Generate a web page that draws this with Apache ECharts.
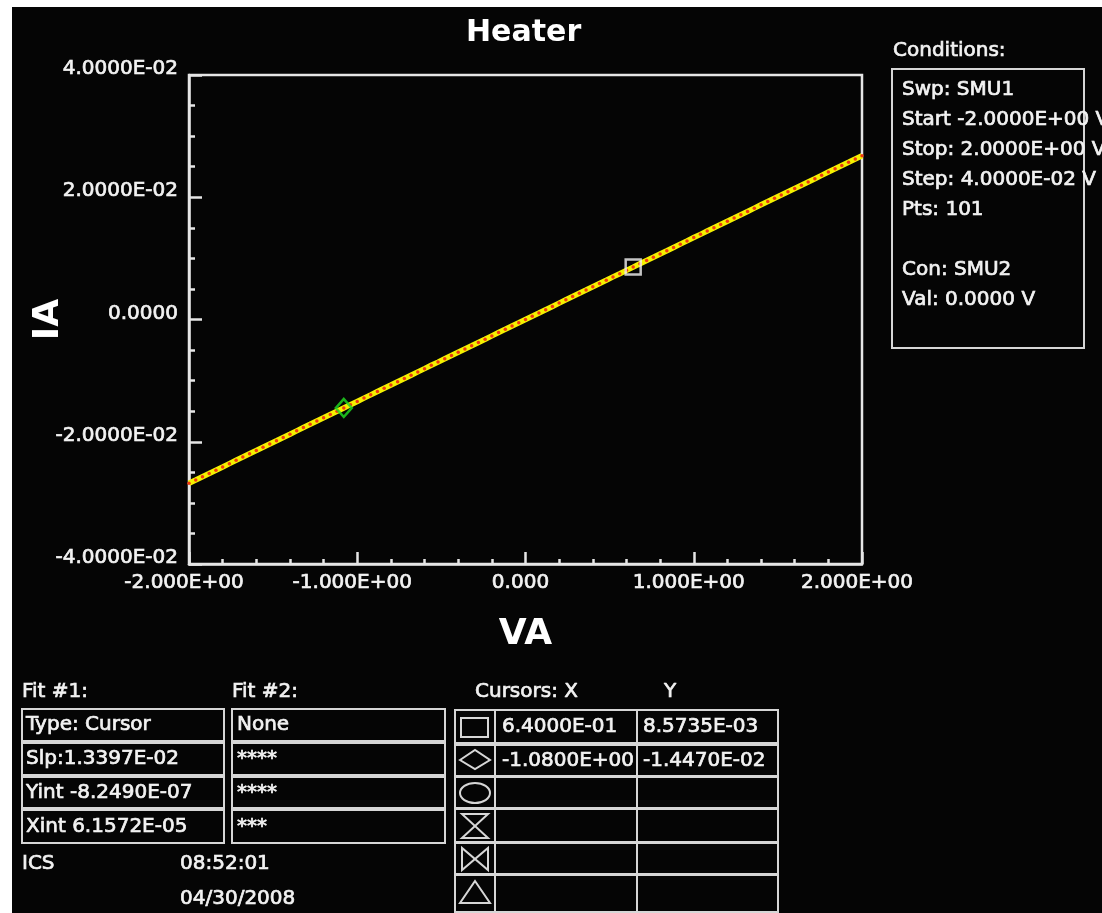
<!DOCTYPE html>
<html>
<head>
<meta charset="utf-8">
<title>Heater</title>
<script src="https://cdn.jsdelivr.net/npm/echarts@6/dist/echarts.min.js"></script>
<style>
  html, body { margin: 0; padding: 0; background: #ffffff; }
  #chart { width: 1102px; height: 913px; }
</style>
</head>
<body>
<div id="chart"></div>
<script>
// Sweep voltage VA (V), SMU1 from -2 V to +2 V in 0.04 V steps (101 points)
const sweepVolts = [
  -2.00, -1.96, -1.92, -1.88, -1.84, -1.80, -1.76, -1.72, -1.68, -1.64,
  -1.60, -1.56, -1.52, -1.48, -1.44, -1.40, -1.36, -1.32, -1.28, -1.24,
  -1.20, -1.16, -1.12, -1.08, -1.04, -1.00, -0.96, -0.92, -0.88, -0.84,
  -0.80, -0.76, -0.72, -0.68, -0.64, -0.60, -0.56, -0.52, -0.48, -0.44,
  -0.40, -0.36, -0.32, -0.28, -0.24, -0.20, -0.16, -0.12, -0.08, -0.04,
   0.00,
   0.04,  0.08,  0.12,  0.16,  0.20,  0.24,  0.28,  0.32,  0.36,  0.40,
   0.44,  0.48,  0.52,  0.56,  0.60,  0.64,  0.68,  0.72,  0.76,  0.80,
   0.84,  0.88,  0.92,  0.96,  1.00,  1.04,  1.08,  1.12,  1.16,  1.20,
   1.24,  1.28,  1.32,  1.36,  1.40,  1.44,  1.48,  1.52,  1.56,  1.60,
   1.64,  1.68,  1.72,  1.76,  1.80,  1.84,  1.88,  1.92,  1.96,  2.00
];

// Measured current IA (A) at each sweep point
const measuredAmps = [
  -0.02679, -0.02626, -0.02572, -0.02519, -0.02465, -0.02412, -0.02358, -0.02304, -0.02251, -0.02197,
  -0.02144, -0.02090, -0.02036, -0.01983, -0.01929, -0.01876, -0.01822, -0.01768, -0.01715, -0.01661,
  -0.01608, -0.01554, -0.01501, -0.01447, -0.01393, -0.01340, -0.01286, -0.01233, -0.01179, -0.01125,
  -0.01072, -0.01018, -0.00965, -0.00911, -0.00857, -0.00804, -0.00750, -0.00697, -0.00643, -0.00590,
  -0.00536, -0.00482, -0.00429, -0.00375, -0.00322, -0.00268, -0.00214, -0.00161, -0.00107, -0.00054,
   0.00000,
   0.00054,  0.00107,  0.00161,  0.00214,  0.00268,  0.00322,  0.00375,  0.00429,  0.00482,  0.00536,
   0.00590,  0.00643,  0.00697,  0.00750,  0.00804,  0.00857,  0.00911,  0.00965,  0.01018,  0.01072,
   0.01125,  0.01179,  0.01233,  0.01286,  0.01340,  0.01393,  0.01447,  0.01501,  0.01554,  0.01608,
   0.01661,  0.01715,  0.01768,  0.01822,  0.01876,  0.01929,  0.01983,  0.02036,  0.02090,  0.02144,
   0.02197,  0.02251,  0.02304,  0.02358,  0.02412,  0.02465,  0.02519,  0.02572,  0.02626,  0.02679
];

// Cursor positions: square cursor, diamond cursor
const cursorX = [0.64, -1.08];
const cursorY = [8.5735e-3, -1.4470e-2];

// Tick values and their labels
const xTickValues = [-2, -1, 0, 1, 2];
const xTickLabels = ['-2.000E+00', '-1.000E+00', '0.000', '1.000E+00', '2.000E+00'];
const yTickValues = [-0.04, -0.02, 0, 0.02, 0.04];
const yTickLabels = ['-4.0000E-02', '-2.0000E-02', '0.0000', '2.0000E-02', '4.0000E-02'];

// Side panel and fit tables
const conditionLines = ['Swp: SMU1', 'Start -2.0000E+00 V', 'Stop: 2.0000E+00 V', 'Step: 4.0000E-02 V', 'Pts: 101', '', 'Con: SMU2', 'Val: 0.0000 V'];
const fit1Rows = ['Type: Cursor', 'Slp:1.3397E-02', 'Yint -8.2490E-07', 'Xint 6.1572E-05'];
const fit2Rows = ['None', '****', '****', '***'];

const FONT = '"DejaVu Sans", "Liberation Sans", Arial, sans-serif';
const FG = '#f2f2f2';
const BOX = '#d6d6d6';
const STROKE_W = 0.7;   // thickens the small screen text a little

function labelFor(values, labels) {
  return function (v) {
    for (let i = 0; i < values.length; i++) {
      if (Math.abs(values[i] - v) < 1e-9) return labels[i];
    }
    return '';
  };
}

// Instrument-style scientific notation: 8.5735E-03
function sci(v, digits) {
  const parts = v.toExponential(digits).split('e');
  const e = parseInt(parts[1], 10);
  const sign = e < 0 ? '-' : '+';
  const mag = String(Math.abs(e)).padStart(2, '0');
  return parts[0] + 'E' + sign + mag;
}

const chart = echarts.init(document.getElementById('chart'), null, { renderer: 'canvas' });

function txt(x, y, s, extra) {
  return {
    type: 'text', x: x, y: y, silent: true,
    style: Object.assign({
      text: s, fill: FG, fontSize: 20, fontFamily: FONT,
      stroke: FG, lineWidth: STROKE_W,
      align: 'left', verticalAlign: 'middle'
    }, extra || {})
  };
}
function box(x, y, w, h) {
  return {
    type: 'rect', silent: true,
    shape: { x: x, y: y, width: w, height: h },
    style: { fill: 'none', stroke: BOX, lineWidth: 2 }
  };
}
function poly(points) {
  return {
    type: 'polygon', silent: true,
    shape: { points: points },
    style: { fill: 'none', stroke: BOX, lineWidth: 2 }
  };
}

const g = [];
// page frame strips
g.push({ type: 'rect', silent: true, shape: { x: 0, y: 0, width: 1102, height: 7 }, style: { fill: '#ffffff' } });
g.push({ type: 'rect', silent: true, shape: { x: 0, y: 0, width: 12, height: 913 }, style: { fill: '#ffffff' } });

// Conditions panel
g.push(txt(893, 51, 'Conditions:'));
g.push(box(892, 69, 192, 279));
conditionLines.forEach(function (s, i) {
  if (s) g.push(txt(902, 90 + i * 30, s));
});

// Fit #1 and Fit #2 tables
g.push(txt(22, 692, 'Fit #1:'));
g.push(txt(232, 692, 'Fit #2:'));
const rowTop = [709, 743, 777, 810];
const rowH = [32, 32, 31, 33];
for (let i = 0; i < 4; i++) {
  g.push(box(22, rowTop[i], 202, rowH[i]));
  g.push(box(232, rowTop[i], 213, rowH[i]));
  g.push(txt(26, rowTop[i] + rowH[i] / 2, fit1Rows[i]));
  g.push(txt(237, rowTop[i] + rowH[i] / 2, fit2Rows[i]));
}

// Footer
g.push(txt(22, 864, 'ICS'));
g.push(txt(180, 864, '08:52:01'));
g.push(txt(180, 899, '04/30/2008'));

// Cursor table
g.push(txt(475, 692, 'Cursors: X'));
g.push(txt(664, 692, 'Y'));
const cTop = [710, 745, 777, 809, 843, 875];
const cBot = [743, 776, 808, 842, 874, 912];
for (let i = 0; i < 6; i++) {
  g.push(box(455, cTop[i], 323, cBot[i] - cTop[i]));
  g.push({ type: 'line', silent: true, shape: { x1: 495, y1: cTop[i], x2: 495, y2: cBot[i] }, style: { stroke: BOX, lineWidth: 2 } });
  g.push({ type: 'line', silent: true, shape: { x1: 637, y1: cTop[i], x2: 637, y2: cBot[i] }, style: { stroke: BOX, lineWidth: 2 } });
}
for (let i = 0; i < cursorX.length; i++) {
  const cy = (cTop[i] + cBot[i]) / 2;
  g.push(txt(502, cy, sci(cursorX[i], 4)));
  g.push(txt(643, cy, sci(cursorY[i], 4)));
}
// cursor glyphs
g.push(box(461, 718, 27, 19));
g.push(poly([[460, 760], [475, 750], [490, 760], [475, 769]]));
g.push({ type: 'ellipse', silent: true, shape: { cx: 475, cy: 793, rx: 15, ry: 10 }, style: { fill: 'none', stroke: BOX, lineWidth: 2 } });
g.push(poly([[462, 814], [488, 814], [462, 838], [488, 838]]));
g.push(poly([[462, 848], [462, 870], [488, 848], [488, 870]]));
g.push(poly([[475, 881], [490, 903], [460, 903]]));

const option = {
  backgroundColor: '#050505',
  animation: false,
  title: {
    text: 'Heater', left: 461, top: 13,
    textStyle: { color: '#ffffff', fontSize: 30, fontWeight: 'bold', fontFamily: FONT }
  },
  grid: {
    show: true, left: 189, top: 75, right: 240, bottom: 349,
    borderColor: '#e6e6e6', borderWidth: 2.5, backgroundColor: 'transparent',
    containLabel: false
  },
  xAxis: {
    type: 'value', min: -2, max: 2, interval: 1,
    name: 'VA', nameLocation: 'middle', nameGap: 53, nameMoveOverlap: false,
    nameTextStyle: { color: '#ffffff', fontSize: 36, fontWeight: 'bold', fontFamily: FONT },
    axisLine: { show: true, onZero: false, lineStyle: { color: '#e6e6e6', width: 2.5 } },
    axisTick: { show: true, inside: true, length: 12, lineStyle: { color: '#e6e6e6', width: 2.5 } },
    minorTick: { show: true, splitNumber: 5, length: 5, lineStyle: { color: '#e6e6e6', width: 2.5 } },
    splitLine: { show: false },
    axisLabel: {
      color: FG, fontSize: 20, fontFamily: FONT, margin: 9,
      textBorderColor: FG, textBorderWidth: STROKE_W,
      padding: [0, 10, 0, 0],
      formatter: labelFor(xTickValues, xTickLabels)
    }
  },
  yAxis: {
    type: 'value', min: -0.04, max: 0.04, interval: 0.02,
    name: 'IA', nameLocation: 'middle', nameGap: 122, nameRotate: 90, nameMoveOverlap: false,
    nameTextStyle: { color: '#ffffff', fontSize: 36, fontWeight: 'bold', fontFamily: FONT },
    axisLine: { show: true, onZero: false, lineStyle: { color: '#e6e6e6', width: 2.5 } },
    axisTick: { show: true, inside: true, length: 13, lineStyle: { color: '#e6e6e6', width: 2.5 } },
    minorTick: { show: true, splitNumber: 4, length: 6, lineStyle: { color: '#e6e6e6', width: 2.5 } },
    splitLine: { show: false },
    axisLabel: {
      color: FG, fontSize: 20, fontFamily: FONT, margin: 11,
      textBorderColor: FG, textBorderWidth: STROKE_W,
      verticalAlign: 'bottom', lineHeight: 12,
      formatter: labelFor(yTickValues, yTickLabels)
    }
  },
  series: [
    {
      name: 'IA', type: 'line',
      data: sweepVolts.map(function (v, i) { return [v, measuredAmps[i]]; }),
      showSymbol: true, symbol: 'circle', symbolSize: 3.5,
      lineStyle: { color: '#f4f000', width: 5.5 },
      itemStyle: { color: '#f03a10', borderWidth: 0 },
      z: 3, silent: true
    },
    {
      name: 'Cursor 1', type: 'scatter',
      data: [[cursorX[0], cursorY[0]]],
      symbol: 'rect', symbolSize: 15,
      itemStyle: { color: 'rgba(0,0,0,0)', borderColor: '#f4f4f4', borderWidth: 2.5 },
      z: 5, silent: true
    },
    {
      name: 'Cursor 2', type: 'scatter',
      data: [[cursorX[1], cursorY[1]]],
      symbol: 'diamond', symbolSize: [16, 18],
      itemStyle: { color: 'rgba(0,0,0,0)', borderColor: '#22e022', borderWidth: 2.5 },
      z: 5, silent: true
    }
  ],
  graphic: { elements: g }
};

chart.setOption(option);
</script>
</body>
</html>
